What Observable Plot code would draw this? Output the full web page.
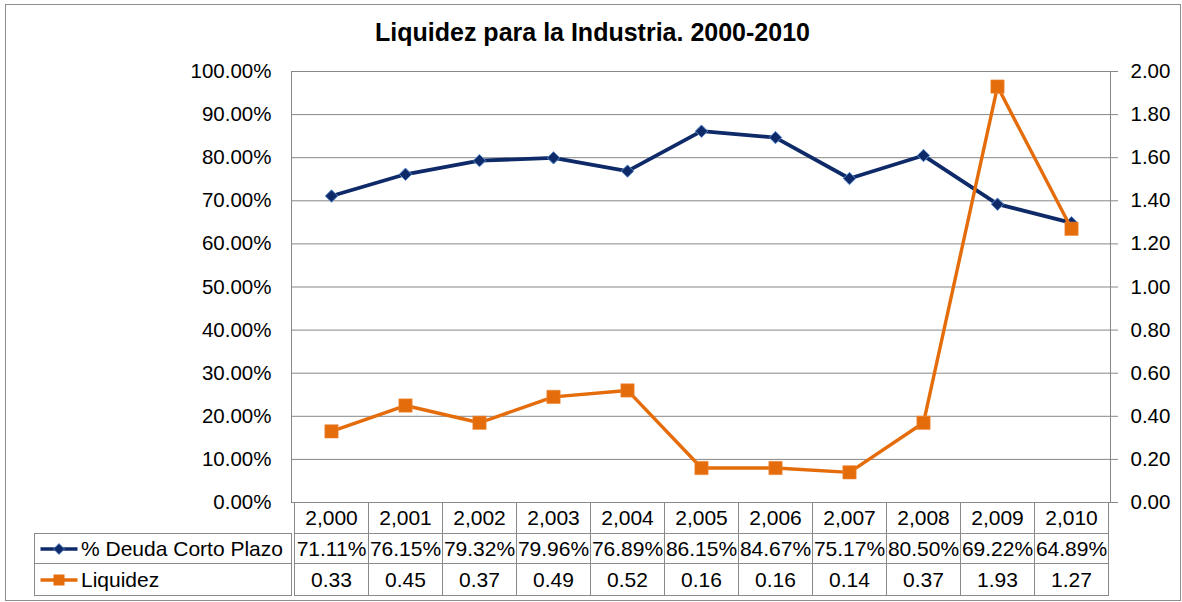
<!DOCTYPE html>
<html><head><meta charset="utf-8">
<script src="https://cdn.jsdelivr.net/npm/d3@7"></script>
<script src="https://cdn.jsdelivr.net/npm/@observablehq/plot@0.6"></script>
<style>
body{margin:0;background:#fff;font-family:"Liberation Sans",Arial,sans-serif;}
#chart{position:relative;width:1182px;height:602px;overflow:hidden;background:#fff;}
#chart svg{position:absolute;left:0;top:0;}
.border{position:absolute;left:5px;top:4px;width:1176px;height:597px;border:1px solid #8e8e8e;box-sizing:border-box;}
.title{position:absolute;left:0;top:20px;width:1185px;text-align:center;font-weight:bold;font-size:25px;line-height:1;color:#000;}
.cell{position:absolute;box-sizing:border-box;border:1px solid #8a8a8a;font-size:21px;color:#000;text-align:center;white-space:nowrap;overflow:visible;}
.lab{text-align:left;padding-left:5px;}
.lab svg{position:static !important;margin-right:2px;}
</style></head><body><div id="chart"><div class="border"></div></div>
<script>
const years = [2000, 2001, 2002, 2003, 2004, 2005, 2006, 2007, 2008, 2009, 2010];
const deuda = [71.11, 76.15, 79.32, 79.96, 76.89, 86.15, 84.67, 75.17, 80.50, 69.22, 64.89];
const liquidez = [0.33, 0.45, 0.37, 0.49, 0.52, 0.16, 0.16, 0.14, 0.37, 1.93, 1.27];
const seriesNames = ["% Deuda Corto Plazo", "Liquidez"];
const leftTicks = [0, 10, 20, 30, 40, 50, 60, 70, 80, 90, 100];
const rightTicks = [0, 0.2, 0.4, 0.6, 0.8, 1.0, 1.2, 1.4, 1.6, 1.8, 2.0];
const title = "Liquidez para la Industria. 2000-2010";

const navy = "#0e2a68", navyEdge = "#5a8bd0", orange = "#e46c0a", gridC = "#878787";
const rows = years.map((y, i) => ({year: y, deuda: deuda[i], liq: liquidez[i]}));

const plot = Plot.plot({
  width: 1182, height: 602,
  marginTop: 71, marginBottom: 100, marginLeft: 291, marginRight: 72,
  style: {fontFamily: "Liberation Sans, Arial, sans-serif", fontSize: "20.5px", color: "#000", background: "transparent", overflow: "visible"},
  x: {type: "point", domain: years, padding: 0.5, axis: null},
  y: {domain: [0, 1], axis: null},
  marks: [
    Plot.gridY(leftTicks.map(t => t / 100), {stroke: gridC, strokeOpacity: 1}),
    Plot.frame({stroke: gridC}),
    Plot.axisY(leftTicks.map(t => t / 100), {anchor: "left", tickSize: 0, tickPadding: 20, fontSize: 20.5, tickFormat: d => (d * 100).toFixed(2) + "%"}),
    Plot.axisY(rightTicks.map(t => t / 2), {anchor: "right", tickSize: 7, tickPadding: 13, stroke: gridC, fill: "#000", fontSize: 20.5, tickFormat: d => (d * 2).toFixed(2)}),
    Plot.line(rows, {x: "year", y: d => d.deuda / 100, stroke: navy, strokeWidth: 3.8}),
    Plot.dot(rows, {x: "year", y: d => d.deuda / 100, symbol: "diamond2", r: 5.6, fill: navy, stroke: navyEdge, strokeWidth: 1}),
    Plot.line(rows, {x: "year", y: d => d.liq / 2, stroke: orange, strokeWidth: 3.4}),
    Plot.dot(rows, {x: "year", y: d => d.liq / 2, symbol: "square", r: 7.5, fill: orange, stroke: "#ef8a3a", strokeWidth: 0.6})
  ]
});

const chart = document.getElementById("chart");
chart.appendChild(plot);

const t = document.createElement("div");
t.className = "title";
t.textContent = title;
chart.appendChild(t);

// data table below the plot, aligned to the x scale
const xs = plot.scale("x");
const step = xs.apply(years[1]) - xs.apply(years[0]);
const rowY = [502, 533, 563, 595];
const tableLeft = 34, plotLeft = 291;
function cell(x0, x1, y0, y1, content, cls) {
  const c = document.createElement("div");
  c.className = "cell" + (cls ? " " + cls : "");
  c.style.left = x0 + "px";
  c.style.top = y0 + "px";
  c.style.width = (x1 - x0 + 1) + "px";
  c.style.height = (y1 - y0 + 1) + "px";
  c.style.lineHeight = (y1 - y0 - 1) + "px";
  if (typeof content === "string") c.textContent = content; else c.appendChild(content);
  chart.appendChild(c);
  return c;
}
const fmtYear = d3.format(",");
const rowTexts = [years.map(fmtYear), deuda.map(v => v.toFixed(2) + "%"), liquidez.map(v => v.toFixed(2))];
rowTexts.forEach((texts, r) => {
  years.forEach((yr, i) => {
    const cx = xs.apply(yr);
    cell(Math.round(cx - step / 2), Math.round(cx + step / 2), rowY[r], rowY[r + 1], texts[i]);
  });
});
// legend label cells
function glyph(color, symbol) {
  const ns = "http://www.w3.org/2000/svg";
  const s = document.createElementNS(ns, "svg");
  s.setAttribute("width", 38); s.setAttribute("height", 14);
  const l = document.createElementNS(ns, "line");
  l.setAttribute("x1", 0.5); l.setAttribute("x2", 37.5); l.setAttribute("y1", 7); l.setAttribute("y2", 7);
  l.setAttribute("stroke", color); l.setAttribute("stroke-width", 3.6);
  s.appendChild(l);
  const p = document.createElementNS(ns, "path");
  p.setAttribute("d", symbol === "diamond" ? "M19,1.5L24.5,7L19,12.5L13.5,7Z" : "M13.5,1.5H24.5V12.5H13.5Z");
  p.setAttribute("fill", color);
  if (symbol === "diamond") { p.setAttribute("stroke", navyEdge); p.setAttribute("stroke-width", 0.8); }
  s.appendChild(p);
  return s;
}
[[navy, "diamond"], [orange, "square"]].forEach(([c, sym], k) => {
  const wrap = document.createElement("div");
  wrap.style.display = "flex"; wrap.style.alignItems = "center"; wrap.style.height = "100%";
  wrap.appendChild(glyph(c, sym));
  const sp = document.createElement("span");
  sp.textContent = seriesNames[k];
  sp.style.marginLeft = "1px";
  wrap.appendChild(sp);
  const cc = cell(tableLeft, plotLeft, rowY[k + 1], rowY[k + 2], wrap, "lab");
  cc.style.lineHeight = "normal";
});
</script>
</body></html>
